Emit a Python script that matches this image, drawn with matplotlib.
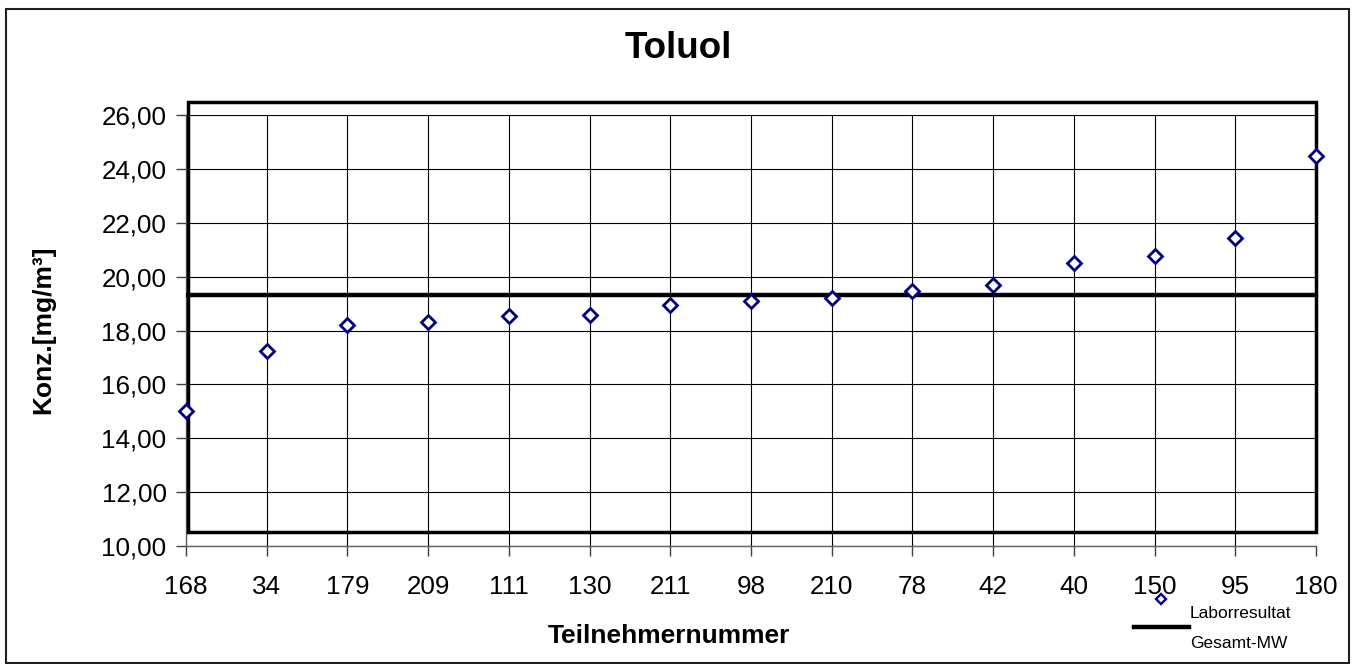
import matplotlib
matplotlib.use("Agg")
import matplotlib.pyplot as plt
from matplotlib.patches import Rectangle
from matplotlib.lines import Line2D
from matplotlib.ticker import FuncFormatter

plt.rcParams['font.family'] = ['Liberation Sans', 'DejaVu Sans']

participants = ["168", "34", "179", "209", "111", "130", "211", "98", "210",
                "78", "42", "40", "150", "95", "180"]
values = [15.02, 17.25, 18.22, 18.31, 18.53, 18.59, 18.96, 19.11, 19.20,
          19.47, 19.70, 20.51, 20.75, 21.44, 24.46]
overall_mean = 19.33
y_ticks = [10, 12, 14, 16, 18, 20, 22, 24, 26]

W, H = 1355, 664
fig = plt.figure(figsize=(W / 100, H / 100), dpi=100)

# outer border
fig.patches.append(Rectangle((6 / W, 1 - 663 / H), (1349 - 6) / W, (663 - 9) / H,
                             transform=fig.transFigure, fill=False,
                             edgecolor='#202020', linewidth=1.5))

ax = fig.add_axes([186 / W, 1 - 546 / H, (1316 - 186) / W, (546 - 115) / H])
x = list(range(len(participants)))

ax.set_xlim(0, len(participants) - 1)
ax.set_ylim(10, 26)
ax.set_yticks(y_ticks)
ax.yaxis.set_major_formatter(FuncFormatter(lambda v, p: f"{v:.2f}".replace('.', ',')))
ax.set_xticks(x)
ax.set_xticklabels(participants)

ax.grid(True, color='black', linewidth=0.8)
ax.set_axisbelow(True)
for s in ['top', 'right']:
    ax.spines[s].set_visible(False)
for s in ['left', 'bottom']:
    ax.spines[s].set_color('#606060')
    ax.spines[s].set_linewidth(1.0)

ax.tick_params(axis='y', direction='out', length=7, width=1, color='#404040',
               labelsize=18.7, pad=7)
ax.tick_params(axis='x', direction='out', length=7, width=1, color='#404040',
               labelsize=18.7, pad=14)

# plot-area frame
ax.add_patch(Rectangle((0.02, 10.52), 13.98, 15.96, fill=False, edgecolor='black',
                       linewidth=2.5, clip_on=False, zorder=3))

ax.plot([0, len(participants) - 1 + 0.02], [overall_mean, overall_mean], color='black',
        linewidth=3.2, zorder=4, clip_on=False, solid_capstyle='butt')
ax.plot(x, values, linestyle='none', marker='D', markersize=7.3, markeredgewidth=2.0,
        markeredgecolor='#000080', markerfacecolor='white', zorder=5, clip_on=False)

fig.text(678 / W, 1 - 31 / H, "Toluol", ha='center', va='top', fontsize=26.5,
         fontweight='bold')
fig.text(669 / W, 1 - 636 / H, "Teilnehmernummer", ha='center', va='center',
         fontsize=19, fontweight='bold')
fig.text(43 / W, 1 - 330 / H, "Konz.[mg/m³]", ha='center', va='center',
         fontsize=19, fontweight='bold', rotation=90)

# legend
fig.add_artist(Line2D([1161 / W], [1 - 599 / H], linestyle='none', marker='D',
                      markersize=5.5, markeredgewidth=1.7, markeredgecolor='#000080',
                      markerfacecolor='white', transform=fig.transFigure))
fig.add_artist(Line2D([1134 / W, 1189 / W], [1 - 627 / H, 1 - 627 / H], color='black',
                      linewidth=3.2, transform=fig.transFigure))
fig.text(1190 / W, 1 - 613 / H, "Laborresultat", ha='left', va='center', fontsize=12.5)
fig.text(1190 / W, 1 - 644 / H, "Gesamt-MW", ha='left', va='center', fontsize=12.5)

fig.savefig("out.png", dpi=100)
